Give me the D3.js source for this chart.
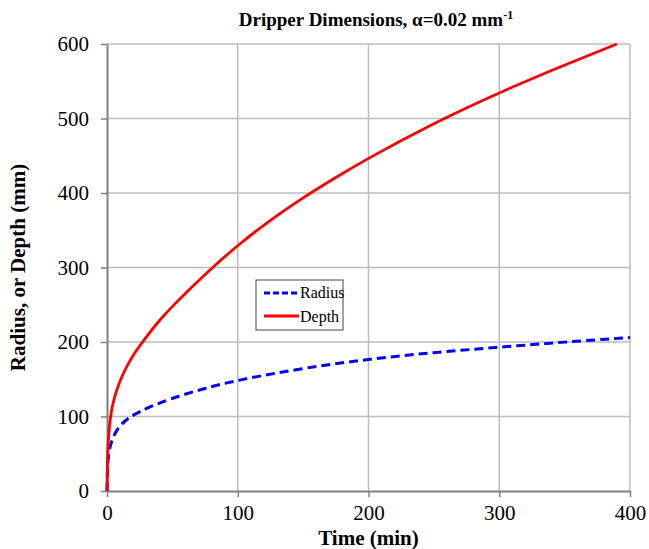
<!DOCTYPE html>
<html>
<head>
<meta charset="utf-8">
<script src="https://cdn.jsdelivr.net/npm/d3@7"></script>
<style>
  body { margin: 0; background: #fff; }
  svg { font-family: "Liberation Serif", "DejaVu Serif", serif; }
</style>
</head>
<body>
<script>
// values
const radiusTime  = [0, 0.3, 1, 2, 5, 10, 15, 20, 30, 50, 75, 100, 150, 200, 250, 300, 350, 400];
const radiusValue = [0, 30, 46, 58, 75, 88, 96, 102, 111, 125, 138, 149, 165, 177, 186, 193, 200, 206];
const depthTime   = [0, 0.3, 1, 2.5, 5, 10, 15, 20, 30, 40, 50, 65, 80, 100, 125, 150, 175, 200, 250, 300, 350, 390];
const depthValue  = [0, 42, 70, 100, 123, 149, 167, 183, 207, 229, 248, 274, 299, 330, 364, 394, 421, 447, 494, 535, 572, 600];
const xTicks = [0, 100, 200, 300, 400];
const yTicks = [0, 100, 200, 300, 400, 500, 600];

const width = 649, height = 549;
const margin = {top: 44, right: 19, bottom: 58, left: 107};

const svg = d3.select('body').append('svg')
  .attr('width', width)
  .attr('height', height);

const x = d3.scaleLinear().domain([0, 400]).range([margin.left, width - margin.right]);
const y = d3.scaleLinear().domain([0, 600]).range([height - margin.bottom, margin.top]);

// grid
svg.append('g')
  .selectAll('line.v')
  .data(xTicks.slice(1))
  .join('line')
  .attr('x1', d => x(d)).attr('x2', d => x(d))
  .attr('y1', y(0)).attr('y2', y(600))
  .attr('stroke', '#bdbdbd').attr('stroke-width', 1.5);

svg.append('g')
  .selectAll('line.h')
  .data(yTicks.slice(1))
  .join('line')
  .attr('x1', x(0)).attr('x2', x(400))
  .attr('y1', d => y(d)).attr('y2', d => y(d))
  .attr('stroke', '#bdbdbd').attr('stroke-width', 1.5);

// axes
const xAxis = svg.append('g')
  .attr('transform', `translate(0,${y(0)})`)
  .call(d3.axisBottom(x).tickValues(xTicks).tickSize(6).tickSizeOuter(0).tickPadding(8));
const yAxis = svg.append('g')
  .attr('transform', `translate(${x(0)},0)`)
  .call(d3.axisLeft(y).tickValues(yTicks).tickSize(6).tickSizeOuter(0).tickPadding(12));

[xAxis, yAxis].forEach(a => {
  a.select('.domain').attr('stroke', '#7f7f7f').attr('stroke-width', 2);
  a.selectAll('.tick line').attr('stroke', '#7f7f7f').attr('stroke-width', 1.5);
  a.selectAll('text')
    .style('font-family', '"Liberation Serif", serif')
    .style('font-size', '21px')
    .attr('fill', '#000');
});

// curves
const line = d3.line().x(d => x(d[0])).y(d => y(d[1])).curve(d3.curveBasis);

svg.append('path')
  .datum(radiusTime.map((t, i) => [t, radiusValue[i]]))
  .attr('d', line)
  .attr('fill', 'none')
  .attr('stroke', '#0000ff')
  .attr('stroke-width', 3)
  .attr('stroke-dasharray', '9,5');

svg.append('path')
  .datum(depthTime.map((t, i) => [t, depthValue[i]]))
  .attr('d', line)
  .attr('fill', 'none')
  .attr('stroke', '#ff0000')
  .attr('stroke-width', 2.8);

// legend
const lg = svg.append('g').attr('transform', 'translate(256,280)');
lg.append('rect')
  .attr('width', 87).attr('height', 50)
  .attr('fill', '#fff').attr('stroke', '#444').attr('stroke-width', 1);
lg.append('line').attr('x1', 8).attr('x2', 43).attr('y1', 13).attr('y2', 13)
  .attr('stroke', '#0000ff').attr('stroke-width', 3).attr('stroke-dasharray', '6,3');
lg.append('text').attr('x', 44).attr('y', 18).text('Radius').style('font-size', '16px');
lg.append('line').attr('x1', 8).attr('x2', 43).attr('y1', 36).attr('y2', 36)
  .attr('stroke', '#ff0000').attr('stroke-width', 3);
lg.append('text').attr('x', 44).attr('y', 42).text('Depth').style('font-size', '16px');

// title
const title = svg.append('text')
  .attr('x', 376).attr('y', 26)
  .attr('text-anchor', 'middle')
  .style('font-size', '19px')
  .style('font-weight', 'bold');
title.append('tspan').text('Dripper Dimensions, α=0.02 mm');
title.append('tspan').attr('dy', -7).style('font-size', '12px').text('-1');

// axis titles
svg.append('text')
  .attr('x', x(200)).attr('y', 545)
  .attr('text-anchor', 'middle')
  .style('font-size', '21px').style('font-weight', 'bold')
  .text('Time (min)');

svg.append('text')
  .attr('transform', `translate(25,${(y(0) + y(600)) / 2}) rotate(-90)`)
  .attr('text-anchor', 'middle')
  .style('font-size', '21px').style('font-weight', 'bold')
  .text('Radius, or Depth (mm)');
</script>
</body>
</html>
